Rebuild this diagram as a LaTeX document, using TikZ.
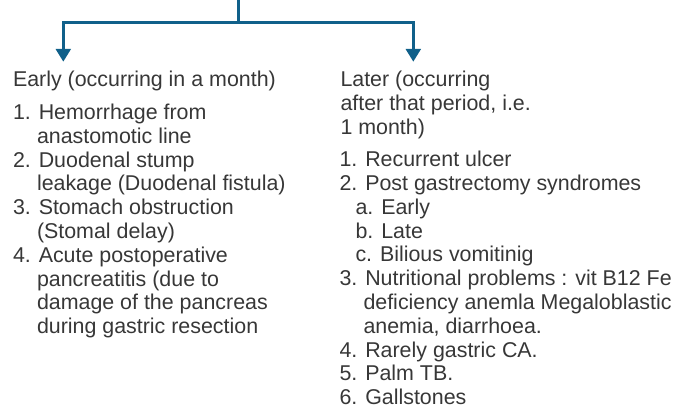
\documentclass[tikz,border=0pt]{standalone}
\usepackage{fontspec}
\setmainfont{Liberation Sans}
\usetikzlibrary{arrows.meta}
\definecolor{conn}{RGB}{16,96,138}
\definecolor{txt}{RGB}{55,55,55}
\begin{document}
\begin{tikzpicture}[x=1pt,y=-1pt,
  line/.style={inner sep=0pt,outer sep=0pt,anchor=base west,text=txt,font=\fontsize{21.4}{24}\selectfont},
  conn/.style={draw=conn,line width=2.8pt},
  arr/.style={conn,-{Triangle[width=14.7pt,length=12.7pt]}}]
\useasboundingbox (0,0) rectangle (675,409);
% connectors
\coordinate (top) at (238.3,0);
\coordinate (j) at (238.3,22.7);
\coordinate (jl) at (63.3,22.7);
\coordinate (jr) at (413.3,22.7);
\coordinate (endL) at (63.3,61.7);
\coordinate (endR) at (413.3,61.7);
\draw[conn] (top) -- (j);
\draw[conn,line cap=rect] (jl) -- (jr);
\draw[arr] (jl) -- (endL);
\draw[arr] (jr) -- (endR);
% left column
\node[line] (lh) at (13,86.7) {Early (occurring in a month)};
\node[line] (l1) at (13,119.3) {1. Hemorrhage from};
\node[line] (l1b) at (37,143.3) {anastomotic line};
\node[line] (l2) at (13,167.1) {2. Duodenal stump};
\node[line] (l2b) at (37,190.9) {leakage (Duodenal fistula)};
\node[line] (l3) at (13,214.6) {3. Stomach obstruction};
\node[line] (l3b) at (37,238.4) {(Stomal delay)};
\node[line] (l4) at (13,262.2) {4. Acute postoperative};
\node[line] (l4b) at (37,286) {pancreatitis (due to};
\node[line] (l4c) at (37,309.8) {damage of the pancreas};
\node[line] (l4d) at (37,333.5) {during gastric resection};
% right column
\node[line] (rh) at (340.5,86.7) {Later (occurring};
\node[line] (rhb) at (340.5,110.7) {after that period, i.e.};
\node[line] (rhc) at (340.5,134.8) {1 month)};
\node[line] (r1) at (339.5,166.7) {1. Recurrent ulcer};
\node[line] (r2) at (339.5,190.5) {2. Post gastrectomy syndromes};
\node[line] (r2a) at (355.5,214.3) {a. Early};
\node[line] (r2b) at (355.5,238.1) {b. Late};
\node[line] (r2c) at (355.5,261.9) {c. Bilious vomitinig};
\node[line] (r3) at (339.5,285.7) {3. Nutritional problems : vit B12 Fe};
\node[line] (r3b) at (363.5,309.5) {deficiency anemla Megaloblastic};
\node[line] (r3c) at (363.5,333.3) {anemia, diarrhoea.};
\node[line] (r4) at (339.5,357.1) {4. Rarely gastric CA.};
\node[line] (r5) at (339.5,380.9) {5. Palm TB.};
\node[line] (r6) at (339.5,404.7) {6. Gallstones};
\end{tikzpicture}
\end{document}
